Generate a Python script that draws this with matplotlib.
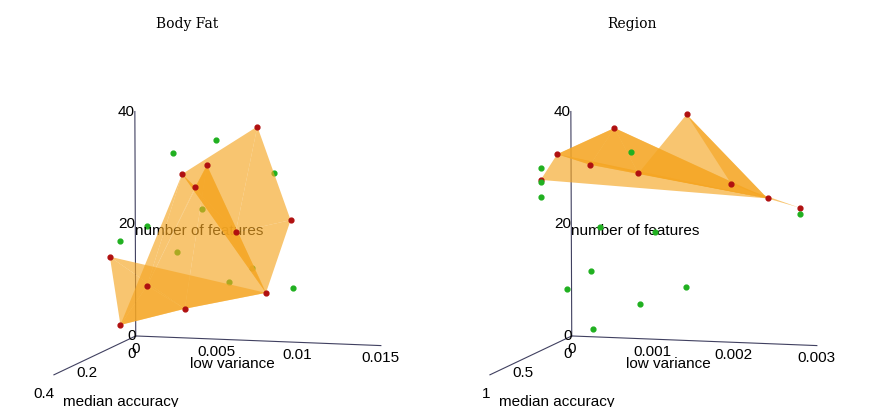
import matplotlib.pyplot as plt
import numpy as np

plt.rcParams['font.family'] = ['Liberation Sans', 'DejaVu Sans']

# Body Fat: (median accuracy, low variance, number of features)
bf_red_acc = [0.05, 0.30, 0.10, 0.15, 0.12, 0.08, 0.20, 0.18, 0.25, 0.10, 0.05]
bf_red_var = [0.008, 0.002, 0.004, 0.006, 0.005, 0.007, 0.003, 0.005, 0.002, 0.009, 0.010]
bf_red_nf = [38, 18, 30, 32, 28, 20, 12, 8, 6, 10, 22]
bf_grn_acc = [0.10, 0.20, 0.15, 0.05, 0.25, 0.12, 0.08, 0.22, 0.18, 0.03]
bf_grn_var = [0.006, 0.003, 0.004, 0.009, 0.002, 0.007, 0.008, 0.005, 0.006, 0.010]
bf_grn_nf = [36, 22, 34, 30, 20, 12, 14, 18, 25, 10]

# Region
rg_red_acc = [0.3, 0.1, 0.5, 0.2, 0.05, 0.4, 0.6, 0.15, 0.02]
rg_red_var = [0.0008, 0.0015, 0.0003, 0.0010, 0.0020, 0.0006, 0.0002, 0.0025, 0.0028]
rg_red_nf = [38, 40, 34, 30, 28, 32, 30, 26, 24]
rg_grn_acc = [0.7, 0.8, 0.6, 0.3, 0.2, 0.5, 0.4, 0.1, 0.6, 0.7, 0.3, 0.02]
rg_grn_var = [0.0003, 0.0004, 0.0002, 0.0010, 0.0012, 0.0008, 0.0006, 0.0015, 0.0005, 0.0009, 0.0011, 0.0028]
rg_grn_nf = [30, 28, 32, 34, 20, 22, 14, 10, 12, 6, 8, 23]

fig = plt.figure(figsize=(8.72, 4.07), dpi=100)

def panel(rect, ra, rv, rn, ga, gv, gn, amax, vmax, aticks, vticks, alabels, vlabels):
    ax = fig.add_axes(rect, projection='3d')
    ax.set_axis_off()
    ax.set_box_aspect((1.5, 1.5, 1.35), zoom=1.0)
    ax.plot_trisurf(ra, rv, rn, color='#f5a623', alpha=0.65, linewidth=0, shade=False)
    ax.scatter(ra, rv, rn, color='#b01010', s=12, depthshade=False)
    ax.scatter(ga, gv, gn, color='#20b020', s=12, depthshade=False)
    lc = '#404060'
    ax.plot([0, amax], [0, 0], [0, 0], color=lc, lw=0.8)
    ax.plot([0, 0], [0, vmax], [0, 0], color=lc, lw=0.8)
    ax.plot([0, 0], [0, 0], [0, 40], color=lc, lw=0.8)
    for t, s in zip(aticks, alabels):
        ax.text(t, 0, -2, s, fontsize=11, ha='right', va='top')
    for t, s in zip(vticks, vlabels):
        ax.text(0, t, -1, s, fontsize=11, ha='center', va='top')
    for t in [0, 20, 40]:
        ax.text(0, 0, t, str(t), fontsize=11, ha='right', va='center')
    ax.text(amax * 0.9, 0, -4, 'median accuracy', fontsize=11, ha='left', va='top')
    ax.text(0, vmax * 0.4, -3, 'low variance', fontsize=11, ha='center', va='top')
    ax.text(0, 0, 20, 'number of features', fontsize=11, ha='left', va='top')
    ax.set_xlim(0, amax)
    ax.set_ylim(0, vmax)
    ax.set_zlim(0, 40)
    ax.view_init(elev=6, azim=15)
    return ax

panel([0.0, -0.165, 0.5, 1.12], bf_red_acc, bf_red_var, bf_red_nf, bf_grn_acc, bf_grn_var, bf_grn_nf,
      0.4, 0.015, [0, 0.2, 0.4], [0, 0.005, 0.01, 0.015], ['0', '0.2', '0.4'], ['0', '0.005', '0.01', '0.015'])
panel([0.5, -0.165, 0.5, 1.12], rg_red_acc, rg_red_var, rg_red_nf, rg_grn_acc, rg_grn_var, rg_grn_nf,
      1.0, 0.003, [0, 0.5, 1], [0, 0.001, 0.002, 0.003], ['0', '0.5', '1'], ['0', '0.001', '0.002', '0.003'])
fig.text(0.215, 0.93, 'Body Fat', family='serif', fontsize=10, ha='center')
fig.text(0.725, 0.93, 'Region', family='serif', fontsize=10, ha='center')
fig.savefig('out.png')
